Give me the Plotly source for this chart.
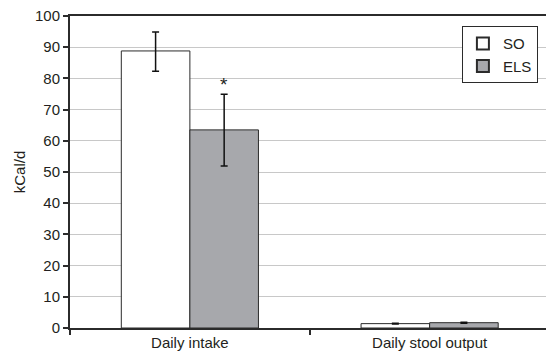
import plotly.graph_objects as go

categories = ["Daily intake", "Daily stool output"]
so_values = [88.8, 1.4]
so_err_plus = [6.1, 0.15]
so_err_minus = [6.5, 0.15]
els_values = [63.5, 1.7]
els_err_plus = [11.4, 0.15]
els_err_minus = [11.6, 0.15]
y_ticks = [0, 10, 20, 30, 40, 50, 60, 70, 80, 90, 100]
sig_label = "*"
sig_y = 78.0

FONT = "Liberation Sans, Arial, sans-serif"
TXT = "#231f20"
LINE = "#2b2b2b"

fig = go.Figure()
fig.add_trace(go.Bar(
    name="SO", x=categories, y=so_values,
    marker=dict(color="#ffffff", line=dict(color=LINE, width=1)),
    error_y=dict(type="data", symmetric=False, array=so_err_plus,
                 arrayminus=so_err_minus, color="#111", thickness=1.5, width=3.5),
))
fig.add_trace(go.Bar(
    name="ELS", x=categories, y=els_values,
    marker=dict(color="#a7a8ac", line=dict(color=LINE, width=1)),
    error_y=dict(type="data", symmetric=False, array=els_err_plus,
                 arrayminus=els_err_minus, color="#111", thickness=1.5, width=3.5),
))

fig.add_annotation(x=categories[0], y=sig_y, text=sig_label, showarrow=False,
                   xshift=34, font=dict(family=FONT, size=19, color=TXT))

fig.update_layout(
    width=546, height=355,
    margin=dict(l=70, r=0, t=16, b=27, autoexpand=False),
    paper_bgcolor="white", plot_bgcolor="white",
    barmode="group", bargap=0.428, bargroupgap=0,
    font=dict(family=FONT, size=15, color=TXT),
    showlegend=True,
    legend=dict(x=0.983, y=0.967, xanchor="right", yanchor="top",
                bgcolor="white", bordercolor=LINE, borderwidth=1,
                font=dict(family=FONT, size=15, color=TXT),
                tracegroupgap=0, itemsizing="constant"),
    xaxis=dict(type="category", range=[-0.5, 1.4854],
               showline=True, linecolor=LINE, linewidth=2, mirror=True,
               ticks="outside", tickson="boundaries", ticklen=5,
               tickcolor=LINE, tickwidth=1.5, showgrid=False,
               tickfont=dict(family=FONT, size=15, color=TXT)),
    yaxis=dict(range=[0, 100], tickvals=y_ticks,
               showline=True, linecolor=LINE, linewidth=2,
               ticks="outside", ticklen=5, tickcolor=LINE, tickwidth=1.5,
               showgrid=True, gridcolor="#c8c8c8", gridwidth=1,
               zeroline=False,
               title=dict(text="kCal/d", standoff=6,
                          font=dict(family=FONT, size=15, color=TXT)),
               tickfont=dict(family=FONT, size=15, color=TXT)),
)

fig.write_html("out.html")
